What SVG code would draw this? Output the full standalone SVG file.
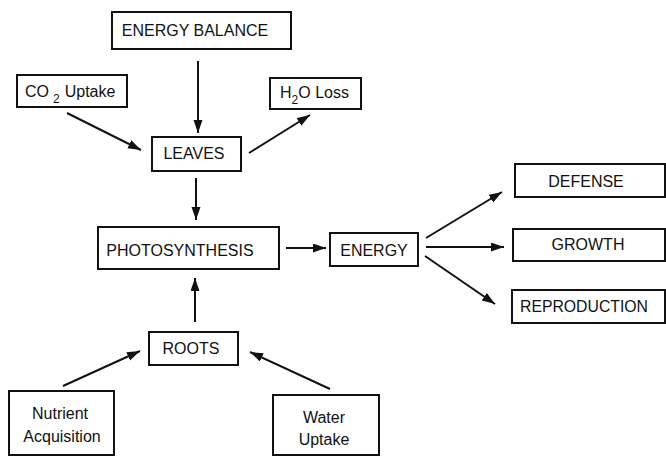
<svg xmlns="http://www.w3.org/2000/svg" width="666" height="456" viewBox="0 0 666 456">
<defs>
<marker id="ah" markerUnits="userSpaceOnUse" markerWidth="14" markerHeight="10" refX="13" refY="4.5" orient="auto">
<path d="M0,0 L13,4.5 L0,9 z" fill="#111"/>
</marker>
<style>
rect{fill:#fff;stroke:#111;stroke-width:2}
text{font-family:"Liberation Sans",Arial,sans-serif;font-size:16px;fill:#111;text-anchor:middle}
.sub{font-size:12px}
#connectors line{stroke:#111;stroke-width:2;marker-end:url(#ah)}
</style>
</defs>
<rect x="0" y="0" width="666" height="456" style="fill:#fff;stroke:none"/>
<g id="connectors">
<line x1="198" y1="61" x2="198" y2="133"/>
<line x1="67" y1="113" x2="141" y2="150"/>
<line x1="249" y1="153" x2="310" y2="115"/>
<line x1="196" y1="178" x2="196" y2="220"/>
<line x1="286" y1="248" x2="326" y2="248"/>
<line x1="195" y1="322" x2="195" y2="278"/>
<line x1="63" y1="386" x2="140" y2="351"/>
<line x1="330" y1="389" x2="250" y2="352"/>
<line x1="426" y1="238" x2="502" y2="192"/>
<line x1="426" y1="247" x2="504" y2="247"/>
<line x1="425" y1="256" x2="495" y2="304"/>
</g>
<g id="energy-balance"><rect x="112" y="12" width="179" height="37"/><text x="195" y="36">ENERGY BALANCE</text></g>
<g id="co2-uptake"><rect x="17" y="75" width="110" height="32"/><text x="25" y="97" style="text-anchor:start">CO<tspan class="sub" dx="4" dy="6">2</tspan><tspan dx="5" dy="-6">Uptake</tspan></text></g>
<g id="h2o-loss"><rect x="270" y="78" width="91" height="31"/><text x="280" y="98" style="text-anchor:start">H<tspan class="sub" dy="6">2</tspan><tspan dy="-6">O Loss</tspan></text></g>
<g id="leaves"><rect x="152" y="137" width="89" height="34"/><text x="194" y="159">LEAVES</text></g>
<g id="photosynthesis"><rect x="98" y="227" width="181" height="42"/><text x="180" y="256">PHOTOSYNTHESIS</text></g>
<g id="energy"><rect x="330" y="233" width="88" height="33"/><text x="374" y="256">ENERGY</text></g>
<g id="roots"><rect x="149" y="332" width="89" height="33"/><text x="191" y="354">ROOTS</text></g>
<g id="nutrient-acquisition"><rect x="9" y="391" width="105" height="64"/><text x="60" y="419">Nutrient</text><text x="62" y="442">Acquisition</text></g>
<g id="water-uptake"><rect x="273" y="395" width="106" height="60"/><text x="324" y="423">Water</text><text x="324" y="445">Uptake</text></g>
<g id="defense"><rect x="515" y="164" width="150" height="33"/><text x="586" y="187">DEFENSE</text></g>
<g id="growth"><rect x="513" y="229" width="152" height="32"/><text x="588" y="250">GROWTH</text></g>
<g id="reproduction"><rect x="512" y="290" width="153" height="33"/><text x="584" y="312" textLength="128" lengthAdjust="spacingAndGlyphs">REPRODUCTION</text></g>
</svg>
